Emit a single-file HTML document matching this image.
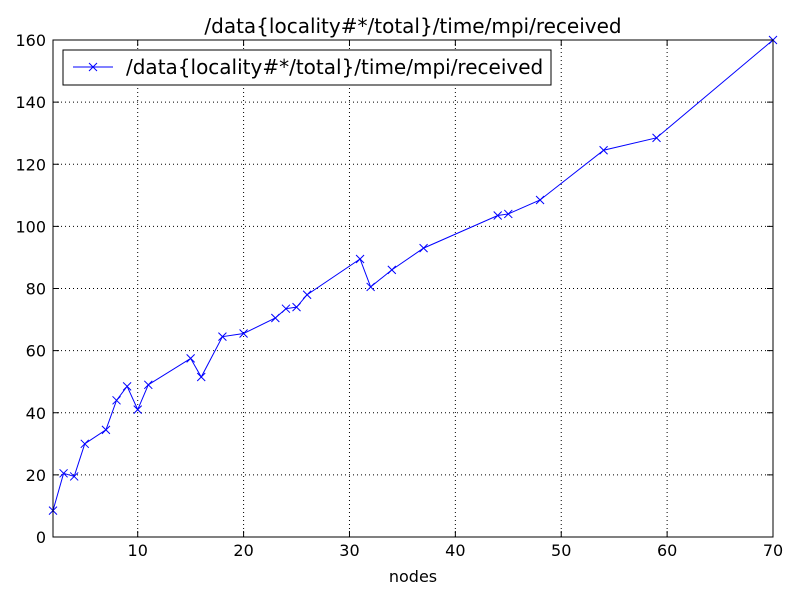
<!DOCTYPE html>
<html><head><meta charset="utf-8"><style>
body{margin:0;background:#fff;}
svg text{font-family:"DejaVu Sans","Liberation Sans",sans-serif;fill:#000;}
</style></head><body>
<svg id="s" width="800" height="600" xmlns="http://www.w3.org/2000/svg">
<rect width="800" height="600" fill="#fff"/>
<g id="grid"></g>
<polyline id="line" fill="none" stroke="#0000ff" stroke-width="1"/>
<g id="marks" stroke="#0000ff" stroke-width="1"></g>
<rect x="53" y="40" width="720" height="497" fill="none" stroke="#000" stroke-width="1"/>
<g id="ticks"></g>
<text x="413" y="33" font-size="20" text-anchor="middle">/data{locality#*/total}/time/mpi/received</text>
<text x="413" y="582" font-size="16" text-anchor="middle">nodes</text>
<rect x="63" y="50" width="488" height="35" fill="#fff" stroke="#000" stroke-width="1"/>
<line x1="73" y1="67" x2="113" y2="67" stroke="#0000ff"/>
<path d="M89,63 l8,8 M97,63 l-8,8" stroke="#0000ff"/>
<text x="126" y="74" font-size="20">/data{locality#*/total}/time/mpi/received</text>
</svg>
<script>
var d=[[2,8.5],[3,20.5],[4,19.5],[5,30],[7,34.5],[8,44],[9,48.5],[10,41],[11,49],[15,57.5],[16,51.5],[18,64.5],[20,65.5],[23,70.5],[24,73.5],[25,74],[26,78],[31,89.5],[32,80.5],[34,86],[37,93],[44,103.5],[45,104],[48,108.5],[54,124.5],[59,128.5],[70,160]];
function X(v){return 53+(v-2)*720/68;}function Y(v){return 537-v*497/160;}
var ns="http://www.w3.org/2000/svg";
function el(t,a,p){var e=document.createElementNS(ns,t);for(var k in a)e.setAttribute(k,a[k]);document.getElementById(p).appendChild(e);return e;}
var pts=d.map(function(p){return X(p[0])+","+Y(p[1]);}).join(" ");
document.getElementById("line").setAttribute("points",pts);
d.forEach(function(p){var x=X(p[0]),y=Y(p[1]);el("path",{d:"M"+(x-4)+","+(y-4)+" l8,8 M"+(x+4)+","+(y-4)+" l-8,8"},"marks");});
for(var v=10;v<=70;v+=10){var x=X(v);
 if(v<70)el("line",{x1:x,y1:40,x2:x,y2:537,stroke:"#000","stroke-dasharray":"1,3","stroke-width":1},"grid");
 el("line",{x1:x,y1:537,x2:x,y2:531,stroke:"#000"},"ticks");el("line",{x1:x,y1:40,x2:x,y2:46,stroke:"#000"},"ticks");
 var t=el("text",{x:x,y:556,"font-size":16,"text-anchor":"middle"},"ticks");t.textContent=v;}
for(var v=0;v<=160;v+=20){var y=Y(v);
 if(v>0&&v<160)el("line",{x1:53,y1:y,x2:773,y2:y,stroke:"#000","stroke-dasharray":"1,3","stroke-width":1},"grid");
 el("line",{x1:53,y1:y,x2:59,y2:y,stroke:"#000"},"ticks");el("line",{x1:773,y1:y,x2:767,y2:y,stroke:"#000"},"ticks");
 var t=el("text",{x:46,y:y+6,"font-size":16,"text-anchor":"end"},"ticks");t.textContent=v;}
</script>
</body></html>
